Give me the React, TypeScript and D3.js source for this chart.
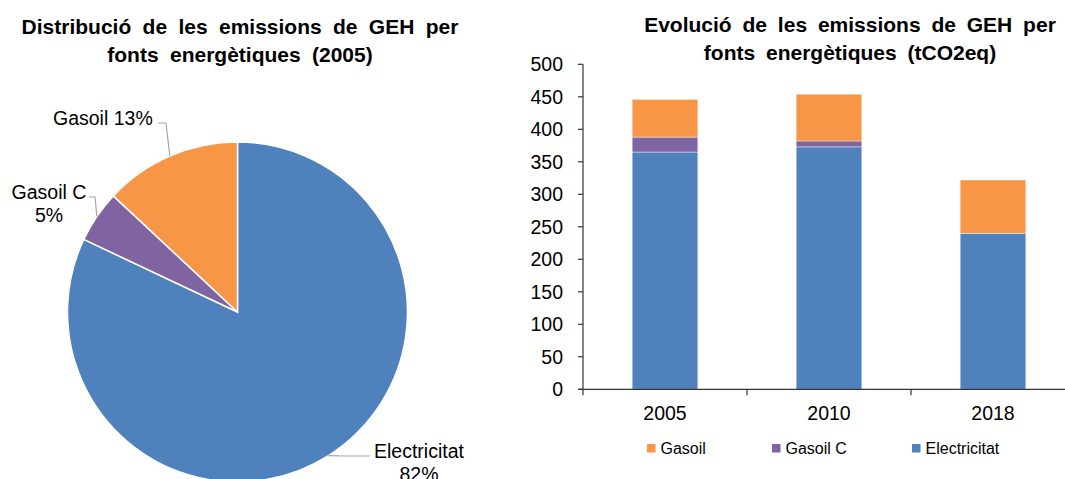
import React from "react";
import * as d3 from "d3";

const pieCategories = ["Electricitat", "Gasoil C", "Gasoil"];
const pieValues = [365, 22, 58];
const pieColors = ["#4F81BD", "#8064A2", "#F79646"];

const years = ["2005", "2010", "2018"];
const seriesNames = ["Electricitat", "Gasoil C", "Gasoil"];
const electricitat = [365, 373, 240];
const gasoilC = [23, 9, 0];
const gasoil = [58, 72, 82];
const yTicks = [0, 50, 100, 150, 200, 250, 300, 350, 400, 450, 500];
const legendOrder = ["Gasoil", "Gasoil C", "Electricitat"];

const colorOf: Record<string, string> = {
  Electricitat: "#4F81BD",
  "Gasoil C": "#8064A2",
  Gasoil: "#F79646",
};

const FONT = "'Liberation Sans', Arial, Helvetica, sans-serif";

export default function App() {
  const W = 1065;
  const H = 479;

  // pie
  const cx = 237.5;
  const cy = 312;
  const r = 170;
  const pieGen = d3.pie<number>().sort(null).startAngle(0).endAngle(2 * Math.PI);
  const arcs = pieGen(pieValues);
  const arcGen = d3.arc<d3.PieArcDatum<number>>().innerRadius(0).outerRadius(r);
  const total = d3.sum(pieValues);
  const edge = (a: d3.PieArcDatum<number>) => {
    const m = (a.startAngle + a.endAngle) / 2;
    return [cx + r * Math.sin(m), cy - r * Math.cos(m)];
  };
  const pct = (v: number) => Math.round((v / total) * 100) + "%";

  // bars
  const x0 = 583;
  const band = 164;
  const x = d3
    .scaleBand<string>()
    .domain(years)
    .range([x0, x0 + band * years.length])
    .paddingInner(0.6)
    .paddingOuter(0.3);
  const y = d3.scaleLinear().domain([0, 500]).range([389.3, 64.3]);
  const seriesData: Record<string, number[]> = {
    Electricitat: electricitat,
    "Gasoil C": gasoilC,
    Gasoil: gasoil,
  };
  const table = years.map((yr, i) => {
    const o: any = { year: yr };
    seriesNames.forEach((s) => (o[s] = seriesData[s][i]));
    return o;
  });
  const stack = d3.stack<any>().keys(seriesNames)(table);

  const labelLayout: Record<string, { lines: string[]; x: number; y: number; anchor: string; lead: [number, number][] }> = {
    Gasoil: { lines: ["Gasoil " + pct(pieValues[2])], x: 53, y: 125, anchor: "start", lead: [[158, 123], [166, 123]] },
    "Gasoil C": { lines: ["Gasoil C", pct(pieValues[1])], x: 49, y: 199, anchor: "middle", lead: [[89, 197], [95, 197]] },
    Electricitat: { lines: ["Electricitat", pct(pieValues[0])], x: 419, y: 458, anchor: "middle", lead: [[370, 456], [345, 456]] },
  };

  return (
    <svg
      width={W}
      height={H}
      style={{ position: "absolute", left: 0, top: 0, background: "#fff" }}
      fontFamily={FONT}
    >
      {/* Pie title */}
      <text textAnchor="middle" fontWeight="bold" fontSize={21} wordSpacing={5.5} fill="#000">
        <tspan x={240} y={33.5}>Distribució de les emissions de GEH per</tspan>
        <tspan x={240} y={61.5}>fonts energètiques (2005)</tspan>
      </text>

      {arcs.map((a, i) => (
        <path
          key={i}
          d={arcGen(a) || ""}
          transform={`translate(${cx},${cy})`}
          fill={pieColors[i]}
          stroke="#fff"
          strokeWidth={1.5}
        />
      ))}
      {arcs.map((a, i) => {
        const name = pieCategories[i];
        const L = labelLayout[name];
        const e = edge(a);
        const pts = [...L.lead, e];
        return (
          <g key={"l" + i}>
            <polyline points={pts.map((p) => p.join(",")).join(" ")} fill="none" stroke="#A6A6A6" strokeWidth={1.2} />
            <text textAnchor={L.anchor} fontSize={19.5} fill="#000">
              {L.lines.map((t, j) => (
                <tspan key={j} x={L.x} y={L.y + j * 23}>
                  {t}
                </tspan>
              ))}
            </text>
          </g>
        );
      })}

      {/* Bar title */}
      <text textAnchor="middle" fontWeight="bold" fontSize={21} wordSpacing={5} fill="#000">
        <tspan x={850} y={32}>Evolució de les emissions de GEH per</tspan>
        <tspan x={850} y={60}>fonts energètiques (tCO2eq)</tspan>
      </text>

      {stack.map((s) => (
        <g key={s.key}>
          {s.map((d, i) =>
            d[1] - d[0] > 0 ? (
              <rect
                key={i}
                x={x(years[i])}
                width={x.bandwidth()}
                y={y(d[1])}
                height={y(d[0]) - y(d[1])}
                fill={colorOf[s.key]}
                stroke="#fff"
                strokeOpacity={0.5}
                strokeWidth={0.8}
              />
            ) : null
          )}
        </g>
      ))}

      {/* y axis */}
      <line x1={x0} x2={x0} y1={y(500)} y2={y(0)} stroke="#333" strokeWidth={1.2} />
      {yTicks.map((t) => (
        <g key={t}>
          <line x1={x0 - 5} x2={x0} y1={y(t)} y2={y(t)} stroke="#333" strokeWidth={1.2} />
          <text x={563} y={y(t) + 7} textAnchor="end" fontSize={19.5} fill="#000">
            {t}
          </text>
        </g>
      ))}
      {/* x axis */}
      <line x1={x0 - 5} x2={W} y1={y(0)} y2={y(0)} stroke="#333" strokeWidth={1.2} />
      {years.map((yr, i) => (
        <g key={yr}>
          <line
            x1={x0 + band * i}
            x2={x0 + band * i}
            y1={y(0)}
            y2={y(0) + 6}
            stroke="#333"
            strokeWidth={1.2}
          />
          <text x={(x(yr) as number) + x.bandwidth() / 2} y={420} textAnchor="middle" fontSize={19.5} fill="#000">
            {yr}
          </text>
        </g>
      ))}

      {/* legend */}
      {legendOrder.map((name, i) => {
        const lx = [647, 772, 912][i];
        return (
          <g key={name}>
            <rect x={lx} y={444} width={8.5} height={8.5} fill={colorOf[name]} />
            <text x={lx + 13.5} y={453.5} fontSize={16} fill="#000">
              {name}
            </text>
          </g>
        );
      })}
    </svg>
  );
}
